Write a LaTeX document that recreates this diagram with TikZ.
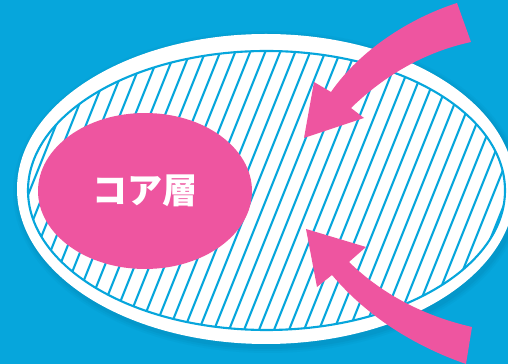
\documentclass[tikz,border=0pt]{standalone}
\usepackage{fontspec}
\newfontfamily\cjk{Noto Sans CJK JP}
\usetikzlibrary{shapes.geometric}

\definecolor{skyblue}{HTML}{06A6DC}
\definecolor{shadeblue}{HTML}{0483B0}
\definecolor{corepink}{HTML}{EE55A0}

\tikzset{
    hatch/.style={draw=skyblue, line width=1.2pt},
    corelayer/.style={ellipse, fill=corepink, inner sep=0pt,
        minimum width=4.28cm, minimum height=3.12cm,
        text=white, font=\cjk\bfseries\fontsize{20}{20}\selectfont},
    inflow/.style={fill=corepink}
}

\begin{document}
\begin{tikzpicture}[x=0.02cm, y=-0.02cm]
    \fill[skyblue] (0,0) rectangle (508,364);
    \useasboundingbox (0,0) rectangle (508,364);

    % soft shadow under the outer ring
    \foreach \s/\o in {6/0.10, 4/0.15, 2/0.20}
        \fill[shadeblue, opacity=\o] (268,192) ellipse ({249+\s} and {155+\s});
    \fill[white] (266,189) ellipse (249 and 155);

    % striped zone
    \begin{scope}
        \clip (266.5,190.5) ellipse (238.5 and 139.5);
        \foreach \x in {-150,-135,...,520}
            \draw[hatch] (\x,340) -- ++(136,-340);
    \end{scope}
    \draw[hatch] (266.5,190.5) ellipse (238.5 and 139.5);

    \node[corelayer] (core) at (145,191) {コア層};

    % arrows coming in
    \fill[inflow] (457,3) .. controls (410,18) and (360,50) .. (331,92)
        -- (314,82) -- (304,138) -- (364,118) -- (351,108)
        .. controls (385,75) and (425,52) .. (471,42) -- cycle;
    \fill[inflow] (306,229) -- (366,247) -- (349,262)
        .. controls (380,292) and (420,315) .. (472,327)
        -- (466,364) .. controls (420,348) and (370,320) .. (332,275)
        -- (317,287) -- cycle;
\end{tikzpicture}
\end{document}
